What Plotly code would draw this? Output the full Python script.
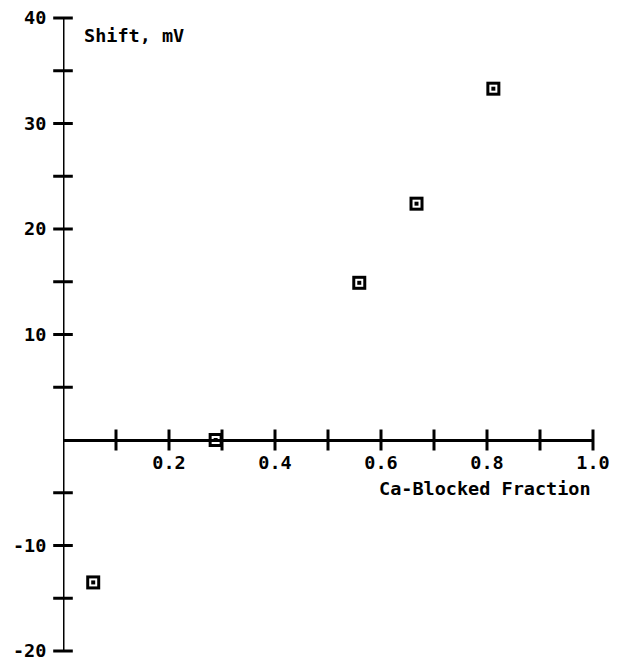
import plotly.graph_objects as go

# data
blocked_fraction = [0.057, 0.288, 0.559, 0.667, 0.812]
shift_mv = [-13.5, 0.0, 14.9, 22.4, 33.3]

x_tick_vals = [0.1, 0.2, 0.3, 0.4, 0.5, 0.6, 0.7, 0.8, 0.9, 1.0]
x_label_vals = [0.2, 0.4, 0.6, 0.8, 1.0]
x_label_text = ["0.2", "0.4", "0.6", "0.8", "1.0"]
y_tick_vals = [-20, -15, -10, -5, 5, 10, 15, 20, 25, 30, 35, 40]
y_label_vals = [-20, -10, 10, 20, 30, 40]
y_label_text = ["-20", "-10", "10", "20", "30", "40"]

FONT = dict(family="DejaVu Sans Mono", size=18.5, color="black", weight="bold")

fig = go.Figure()

# y-axis line
fig.add_trace(go.Scatter(x=[0, 0], y=[-20, 40], mode="lines",
                         line=dict(color="black", width=3), cliponaxis=False,
                         hoverinfo="skip", showlegend=False))
# crossing ticks
fig.add_trace(go.Scatter(x=[0] * len(y_tick_vals), y=y_tick_vals, mode="markers",
                         marker=dict(symbol="line-ew", size=14, line=dict(color="black", width=3)),
                         cliponaxis=False, hoverinfo="skip", showlegend=False))
fig.add_trace(go.Scatter(x=x_tick_vals, y=[0] * len(x_tick_vals), mode="markers",
                         marker=dict(symbol="line-ns", size=15, line=dict(color="black", width=3)),
                         cliponaxis=False, hoverinfo="skip", showlegend=False))

# data markers: black square, white inner, black dot
fig.add_trace(go.Scatter(x=blocked_fraction, y=shift_mv, mode="markers",
                         marker=dict(symbol="square", size=14, color="black", line=dict(width=0)),
                         cliponaxis=False, showlegend=False))
fig.add_trace(go.Scatter(x=blocked_fraction, y=shift_mv, mode="markers",
                         marker=dict(symbol="square", size=8, color="white", line=dict(width=0)),
                         cliponaxis=False, hoverinfo="skip", showlegend=False))
fig.add_trace(go.Scatter(x=blocked_fraction, y=shift_mv, mode="markers",
                         marker=dict(symbol="square", size=4, color="black", line=dict(width=0)),
                         cliponaxis=False, hoverinfo="skip", showlegend=False))

fig.update_layout(
    width=621, height=663,
    margin=dict(l=63, r=28, t=18, b=12, autoexpand=False),
    paper_bgcolor="white", plot_bgcolor="white",
    font=FONT,
    xaxis=dict(range=[0, 1], anchor="free", position=1/3, showline=True,
               linewidth=3, linecolor="black", showgrid=False, zeroline=False,
               tickvals=x_label_vals, ticktext=x_label_text,
               ticks="outside", ticklen=5, tickcolor="rgba(0,0,0,0)",
               automargin=False, tickfont=FONT),
    yaxis=dict(range=[-20, 40], showline=False, showgrid=False, zeroline=False,
               tickvals=y_label_vals, ticktext=y_label_text,
               ticks="outside", ticklen=12, tickcolor="rgba(0,0,0,0)",
               ticklabeloverflow="allow", automargin=False, tickfont=FONT),
    annotations=[
        dict(text="Ca-Blocked Fraction", x=1.0, y=0, xref="x", yref="y",
             xanchor="right", yanchor="middle", yshift=-48, showarrow=False, font=FONT),
        dict(text="Shift, mV", x=0.036, y=38.3, xref="x", yref="y",
             xanchor="left", yanchor="middle", showarrow=False, font=FONT),
    ],
)

fig.write_html("out.html")
